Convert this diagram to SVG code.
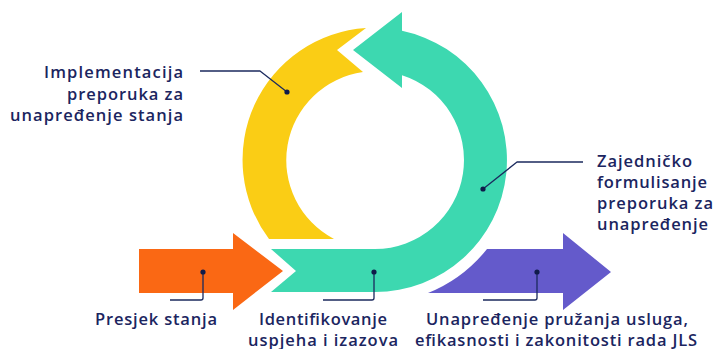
<svg xmlns="http://www.w3.org/2000/svg" width="715" height="349" viewBox="0 0 715 349">
<style>
.t{font-family:"Open Sans","Liberation Sans",sans-serif;font-weight:600;font-size:16.5px;fill:#1B2560}
.ld{fill:none;stroke:#1B2A5E;stroke-width:1.3;stroke-linejoin:round}
.dot{fill:#0F1B4A}
</style>
<rect width="715" height="349" fill="#fff"/>
<g id="node-yellow">
<path d="M269,239 A132,132 0 0 1 366,28 L337,50 L363,72 A89,89 0 0 0 334,239 Z" fill="#FACD15"/>
</g>
<g id="node-green">
<path d="M402,30.8 L402,12 L353,50 L402,88 L402,75.2 A89,89 0 0 1 375,249 L271,249 L296,271 L271,292 L375,292 A132,132 0 0 0 402,30.8 Z" fill="#3DD8B0"/>
</g>
<g id="node-orange">
<path d="M139,249 L233,249 L233,233 L283,271 L233,310 L233,293 L139,293 Z" fill="#FA6814"/>
</g>
<g id="node-purple">
<path d="M487,249 L563,249 L563,233 L611,272 L563,310 L563,293 L428,293 A144,144 0 0 0 487,249 Z" fill="#645ACB"/>
</g>
<g id="connectors">
<path class="ld" d="M200,71 L260,71 L287,92"/>
<path class="ld" d="M483,189 L517,162 L583,162"/>
<path class="ld" d="M203,272 L203,298 Q203,300 201,300 L170,300"/>
<path class="ld" d="M374,272 L374,298 Q374,300 372,300 L323,300"/>
<path class="ld" d="M537,272 L537,298 Q537,300 535,300 L483,300"/>
<circle class="dot" cx="287" cy="92" r="2.6"/>
<circle class="dot" cx="483" cy="189" r="2.6"/>
<circle class="dot" cx="203" cy="272" r="2.6"/>
<circle class="dot" cx="374" cy="272" r="2.6"/>
<circle class="dot" cx="537" cy="272" r="2.6"/>
</g>
<g id="label-implementacija">
<text class="t" x="44" y="78" textLength="139" lengthAdjust="spacing">Implementacija</text>
<text class="t" x="67" y="99.5" textLength="116" lengthAdjust="spacing">preporuka za</text>
<text class="t" x="10" y="121" textLength="173" lengthAdjust="spacing">unapređenje stanja</text>
</g>
<g id="label-zajednicko">
<text class="t" x="597" y="167" textLength="95" lengthAdjust="spacing">Zajedničko</text>
<text class="t" x="597" y="188" textLength="110" lengthAdjust="spacing">formulisanje</text>
<text class="t" x="597" y="209" textLength="116" lengthAdjust="spacing">preporuka za</text>
<text class="t" x="597" y="230" textLength="111" lengthAdjust="spacing">unapređenje</text>
</g>
<g id="label-presjek">
<text class="t" x="95" y="325" textLength="122" lengthAdjust="spacing">Presjek stanja</text>
</g>
<g id="label-identifikovanje">
<text class="t" x="259" y="324.5" textLength="128" lengthAdjust="spacing">Identifikovanje</text>
<text class="t" x="248" y="345.5" textLength="150" lengthAdjust="spacing">uspjeha i izazova</text>
</g>
<g id="label-unapredjenje">
<text class="t" x="426" y="324.5" textLength="262" lengthAdjust="spacing">Unapređenje pružanja usluga,</text>
<text class="t" x="415" y="345.5" textLength="282" lengthAdjust="spacing">efikasnosti i zakonitosti rada JLS</text>
</g>
</svg>
